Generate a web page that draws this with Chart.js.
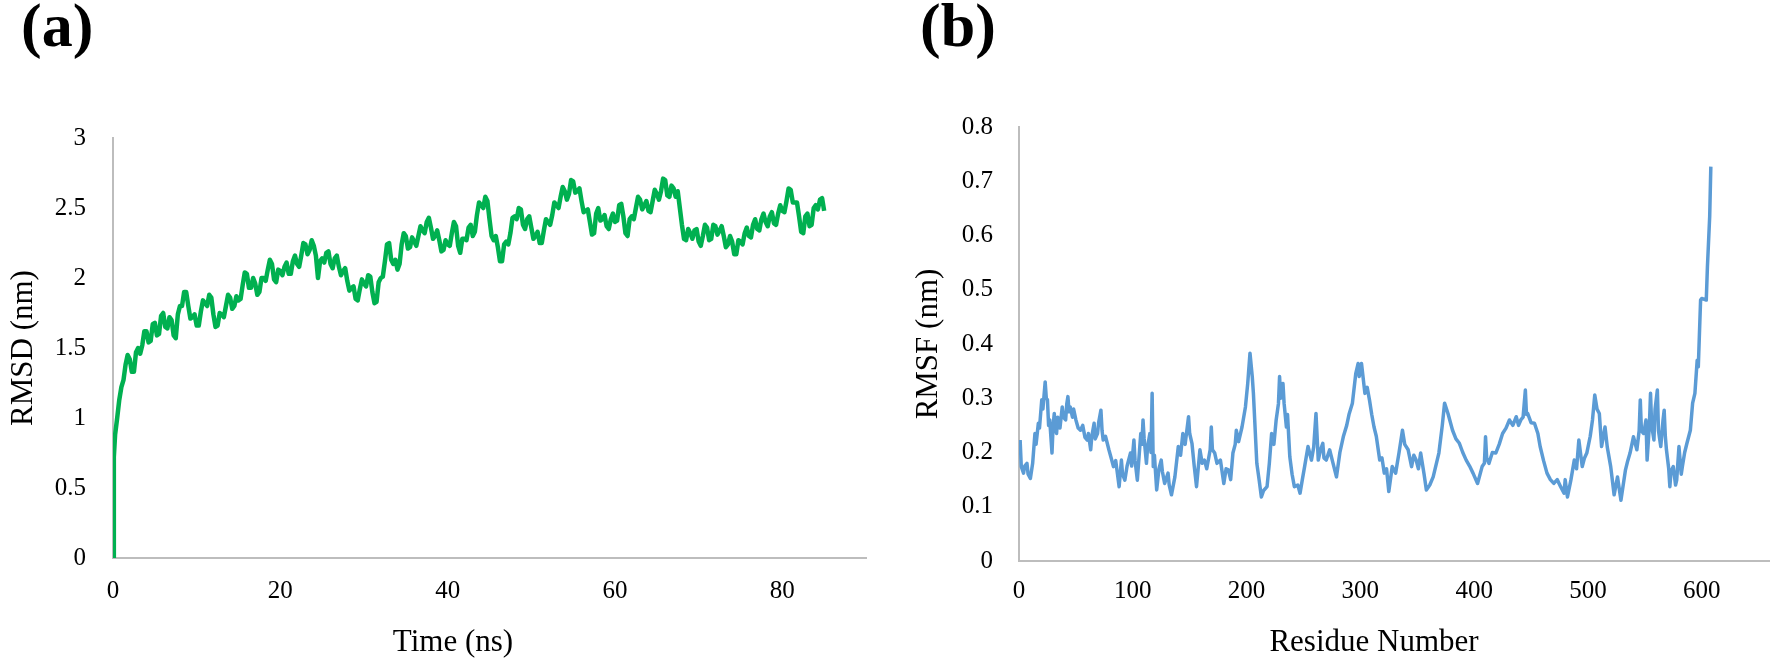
<!DOCTYPE html>
<html>
<head>
<meta charset="utf-8">
<script src="https://cdn.jsdelivr.net/npm/chart.js@4"></script>
<style>
  body { margin: 0; background: #fff; }
  #wrap { position: relative; width: 1770px; height: 660px; overflow: hidden; background: #fff;
          font-family: "Liberation Serif", "Times New Roman", serif; color: #000; }
  .panel { position: absolute; top: 0; height: 660px; }
  .panel canvas { display: block; }
  .letter { position: absolute; top: -6px; font-size: 62px; font-weight: bold; line-height: 62px; }
  .xtitle { position: absolute; top: 623px; width: 400px; text-align: center; font-size: 31px; line-height: 36px; }
</style>
</head>
<body>
<div id="wrap">
  <div class="panel" style="left:0;width:880px"><canvas id="rmsd" width="880" height="660"></canvas></div>
  <div class="panel" style="left:880px;width:890px"><canvas id="rmsf" width="890" height="660"></canvas></div>
  <div class="letter" style="left:21px">(a)</div>
  <div class="letter" style="left:920px">(b)</div>
  <div class="xtitle" style="left:253px">Time (ns)</div>
  <div class="xtitle" style="left:1174px">Residue Number</div>
</div>
<script>
// (a) backbone RMSD over the simulation
var timeNs = [
  0, 0.1, 0.25, 0.5, 0.75,
  1, 1.25, 1.5, 1.75, 2, 2.25, 2.5, 2.75, 3, 3.25, 3.5, 3.75, 4, 4.25, 4.5, 4.75, 5, 5.25, 5.5, 5.75,
  6, 6.25, 6.5, 6.75, 7, 7.25, 7.5, 7.75, 8, 8.25, 8.5, 8.75, 9, 9.25, 9.5, 9.75, 10, 10.25, 10.5, 10.75,
  11, 11.25, 11.5, 11.75, 12, 12.25, 12.5, 12.75, 13, 13.25, 13.5, 13.75, 14, 14.25, 14.5, 14.75, 15, 15.25, 15.5, 15.75,
  16, 16.25, 16.5, 16.75, 17, 17.25, 17.5, 17.75, 18, 18.25, 18.5, 18.75, 19, 19.25, 19.5, 19.75, 20, 20.25, 20.5, 20.75,
  21, 21.25, 21.5, 21.75, 22, 22.25, 22.5, 22.75, 23, 23.25, 23.5, 23.75, 24, 24.25, 24.5, 24.75, 25, 25.25, 25.5, 25.75,
  26, 26.25, 26.5, 26.75, 27, 27.25, 27.5, 27.75, 28, 28.25, 28.5, 28.75, 29, 29.25, 29.5, 29.75, 30, 30.25, 30.5, 30.75,
  31, 31.25, 31.5, 31.75, 32, 32.25, 32.5, 32.75, 33, 33.25, 33.5, 33.75, 34, 34.25, 34.5, 34.75, 35, 35.25, 35.5, 35.75,
  36, 36.25, 36.5, 36.75, 37, 37.25, 37.5, 37.75, 38, 38.25, 38.5, 38.75, 39, 39.25, 39.5, 39.75, 40, 40.25, 40.5, 40.75,
  41, 41.25, 41.5, 41.75, 42, 42.25, 42.5, 42.75, 43, 43.25, 43.5, 43.75, 44, 44.25, 44.5, 44.75, 45, 45.25, 45.5, 45.75,
  46, 46.25, 46.5, 46.75, 47, 47.25, 47.5, 47.75, 48, 48.25, 48.5, 48.75, 49, 49.25, 49.5, 49.75, 50, 50.25, 50.5, 50.75,
  51, 51.25, 51.5, 51.75, 52, 52.25, 52.5, 52.75, 53, 53.25, 53.5, 53.75, 54, 54.25, 54.5, 54.75, 55, 55.25, 55.5, 55.75,
  56, 56.25, 56.5, 56.75, 57, 57.25, 57.5, 57.75, 58, 58.25, 58.5, 58.75, 59, 59.25, 59.5, 59.75, 60, 60.25, 60.5, 60.75,
  61, 61.25, 61.5, 61.75, 62, 62.25, 62.5, 62.75, 63, 63.25, 63.5, 63.75, 64, 64.25, 64.5, 64.75, 65, 65.25, 65.5, 65.75,
  66, 66.25, 66.5, 66.75, 67, 67.25, 67.5, 67.75, 68, 68.25, 68.5, 68.75, 69, 69.25, 69.5, 69.75, 70, 70.25, 70.5, 70.75,
  71, 71.25, 71.5, 71.75, 72, 72.25, 72.5, 72.75, 73, 73.25, 73.5, 73.75, 74, 74.25, 74.5, 74.75, 75, 75.25, 75.5, 75.75,
  76, 76.25, 76.5, 76.75, 77, 77.25, 77.5, 77.75, 78, 78.25, 78.5, 78.75, 79, 79.25, 79.5, 79.75, 80, 80.25, 80.5, 80.75,
  81, 81.25, 81.5, 81.75, 82, 82.25, 82.5, 82.75, 83, 83.25, 83.5, 83.75, 84, 84.25, 84.5, 84.75, 85,
];
var rmsdNm = [
  0, 0.72, 0.88, 1.0, 1.13,
  1.22, 1.27, 1.38, 1.45, 1.42, 1.33, 1.33, 1.47, 1.5, 1.46, 1.52, 1.62, 1.62, 1.54, 1.55, 1.67, 1.68, 1.59, 1.6, 1.73,
  1.75, 1.65, 1.64, 1.72, 1.7, 1.59, 1.57, 1.74, 1.8, 1.8, 1.9, 1.9, 1.8, 1.71, 1.72, 1.74, 1.66, 1.66, 1.76, 1.84,
  1.82, 1.8, 1.88, 1.86, 1.74, 1.65, 1.66, 1.75, 1.74, 1.72, 1.8, 1.88, 1.86, 1.78, 1.8, 1.87, 1.84, 1.85, 1.95, 2.04,
  2.03, 1.93, 1.93, 2.0, 1.96, 1.88, 1.9, 2.0, 2.0, 1.98, 2.06, 2.13, 2.1, 1.99, 1.97, 2.06, 2.05, 2.02, 2.08, 2.11,
  2.03, 2.03, 2.12, 2.16, 2.1, 2.08, 2.16, 2.25, 2.24, 2.17, 2.2, 2.27, 2.23, 2.16, 2.0, 2.12, 2.14, 2.11, 2.18, 2.19,
  2.1, 2.07, 2.14, 2.16, 2.08, 2.02, 2.05, 2.07, 1.98, 1.91, 1.93, 1.94, 1.85, 1.84, 1.92, 1.99, 1.96, 1.94, 2.02, 2.01,
  1.9, 1.82, 1.83, 1.97, 2.0, 2.01, 2.12, 2.24, 2.25, 2.13, 2.1, 2.13, 2.06, 2.1, 2.24, 2.32, 2.3, 2.21, 2.22, 2.29,
  2.26, 2.23, 2.3, 2.37, 2.34, 2.32, 2.4, 2.43, 2.36, 2.28, 2.3, 2.34, 2.27, 2.19, 2.2, 2.27, 2.24, 2.23, 2.32, 2.4,
  2.37, 2.23, 2.18, 2.28, 2.28, 2.27, 2.36, 2.38, 2.3, 2.33, 2.45, 2.54, 2.52, 2.5, 2.58, 2.55, 2.42, 2.3, 2.27, 2.3,
  2.22, 2.12, 2.12, 2.24, 2.26, 2.24, 2.32, 2.43, 2.44, 2.42, 2.5, 2.49, 2.38, 2.35, 2.42, 2.44, 2.36, 2.28, 2.3, 2.33,
  2.25, 2.25, 2.34, 2.42, 2.4, 2.38, 2.45, 2.54, 2.52, 2.5, 2.58, 2.65, 2.62, 2.56, 2.6, 2.7, 2.69, 2.61, 2.62, 2.64,
  2.55, 2.47, 2.48, 2.49, 2.4, 2.31, 2.32, 2.46, 2.5, 2.41, 2.42, 2.45, 2.37, 2.35, 2.42, 2.46, 2.4, 2.41, 2.52, 2.53,
  2.44, 2.32, 2.3, 2.42, 2.44, 2.42, 2.5, 2.58, 2.56, 2.49, 2.52, 2.55, 2.48, 2.47, 2.55, 2.63, 2.6, 2.56, 2.62, 2.71,
  2.7, 2.59, 2.58, 2.66, 2.64, 2.58, 2.62, 2.5, 2.38, 2.28, 2.27, 2.35, 2.32, 2.28, 2.34, 2.35, 2.26, 2.23, 2.3, 2.38,
  2.36, 2.27, 2.28, 2.38, 2.37, 2.31, 2.34, 2.37, 2.3, 2.22, 2.24, 2.3, 2.26, 2.17, 2.17, 2.27, 2.26, 2.24, 2.32, 2.36,
  2.3, 2.29, 2.38, 2.42, 2.35, 2.34, 2.42, 2.46, 2.4, 2.37, 2.44, 2.47, 2.39, 2.38, 2.46, 2.52, 2.48, 2.47, 2.55, 2.64,
  2.63, 2.54, 2.54, 2.54, 2.44, 2.33, 2.32, 2.44, 2.46, 2.37, 2.38, 2.5, 2.52, 2.49, 2.56, 2.57, 2.48,
];

// (b) per-residue RMSF
var residues = [
  1, 2, 4, 5, 7, 8, 10, 12, 14, 15, 17, 18, 20, 21, 23, 24, 25, 26, 27, 29,
  30, 31, 32, 33, 34, 35, 36, 38, 39, 41, 42, 43, 44, 45, 47, 48, 50, 52, 54, 56,
  58, 60, 61, 63, 64, 66, 67, 69, 70, 72, 73, 74, 76, 79, 81, 83, 85, 88, 90, 91,
  93, 95, 98, 99, 101, 102, 104, 107, 108, 109, 110, 112, 113, 115, 116, 117, 118, 119, 121, 123,
  125, 126, 128, 131, 132, 134, 137, 140, 142, 144, 146, 149, 150, 152, 154, 156, 159, 161, 163, 165,
  168, 169, 170, 172, 174, 177, 180, 182, 184, 186, 188, 190, 191, 193, 196, 199, 201, 203, 205, 206,
  209, 211, 213, 215, 218, 220, 222, 224, 226, 228, 229, 230, 232, 233, 235, 236, 238, 240, 242, 245,
  247, 249, 251, 254, 257, 259, 261, 263, 265, 267, 268, 270, 273, 276, 279, 282, 285, 288, 290, 293,
  296, 298, 299, 301, 304, 306, 308, 310, 312, 314, 317, 319, 321, 323, 325, 328, 331, 334, 337, 339,
  342, 345, 347, 349, 351, 353, 356, 358, 361, 364, 369, 372, 374, 377, 381, 384, 387, 390, 393, 396,
  399, 403, 407, 409, 410, 411, 413, 416, 419, 422, 425, 428, 431, 434, 437, 439, 441, 443, 445, 446,
  447, 450, 453, 456, 458, 461, 464, 467, 470, 473, 476, 479, 480, 482, 485, 488, 490, 492, 495, 497,
  499, 502, 504, 506, 508, 510, 512, 515, 517, 520, 523, 526, 529, 531, 533, 535, 537, 540, 543, 545,
  546, 547, 549, 551, 552, 554, 555, 556, 558, 559, 561, 562, 564, 566, 567, 568, 569, 571, 572, 573,
  575, 577, 578, 580, 582, 583, 585, 587, 590, 592, 594, 596, 597, 599, 600, 604, 605, 607, 608,
];
var rmsfNm = [
  0.223, 0.174, 0.162, 0.175, 0.18, 0.16, 0.152, 0.18, 0.235, 0.215, 0.254, 0.245, 0.297, 0.28, 0.33, 0.3, 0.297, 0.25, 0.26, 0.199,
  0.25, 0.272, 0.245, 0.235, 0.265, 0.26, 0.245, 0.284, 0.265, 0.26, 0.29, 0.303, 0.275, 0.284, 0.265, 0.28, 0.26, 0.245, 0.241, 0.25,
  0.228, 0.223, 0.235, 0.205, 0.23, 0.254, 0.225, 0.235, 0.255, 0.278, 0.24, 0.223, 0.23, 0.205, 0.19, 0.174, 0.185, 0.137, 0.186, 0.16,
  0.149, 0.175, 0.199, 0.175, 0.223, 0.185, 0.149, 0.235, 0.215, 0.26, 0.225, 0.18, 0.21, 0.235, 0.2, 0.309, 0.174, 0.195, 0.131, 0.17,
  0.186, 0.165, 0.143, 0.162, 0.14, 0.122, 0.155, 0.211, 0.195, 0.235, 0.215, 0.266, 0.235, 0.217, 0.175, 0.137, 0.205, 0.18, 0.186, 0.17,
  0.205, 0.247, 0.205, 0.199, 0.18, 0.186, 0.143, 0.17, 0.168, 0.15, 0.199, 0.215, 0.241, 0.22, 0.247, 0.284, 0.327, 0.383, 0.34, 0.309,
  0.18, 0.15, 0.118, 0.13, 0.137, 0.18, 0.235, 0.215, 0.26, 0.29, 0.34, 0.3, 0.327, 0.29, 0.247, 0.27, 0.192, 0.16, 0.137, 0.14,
  0.125, 0.15, 0.174, 0.211, 0.186, 0.21, 0.272, 0.186, 0.205, 0.217, 0.19, 0.186, 0.205, 0.18, 0.155, 0.2, 0.229, 0.25, 0.27, 0.291,
  0.346, 0.364, 0.34, 0.364, 0.309, 0.32, 0.297, 0.27, 0.247, 0.23, 0.186, 0.19, 0.162, 0.17, 0.128, 0.174, 0.162, 0.2, 0.241, 0.215,
  0.205, 0.174, 0.195, 0.186, 0.17, 0.199, 0.16, 0.131, 0.14, 0.155, 0.199, 0.25, 0.291, 0.272, 0.241, 0.225, 0.217, 0.2, 0.186, 0.175,
  0.162, 0.143, 0.174, 0.18, 0.229, 0.19, 0.18, 0.2, 0.199, 0.215, 0.235, 0.245, 0.26, 0.25, 0.266, 0.25, 0.26, 0.265, 0.315, 0.27,
  0.272, 0.255, 0.254, 0.235, 0.211, 0.185, 0.162, 0.15, 0.143, 0.15, 0.137, 0.125, 0.15, 0.118, 0.149, 0.186, 0.17, 0.223, 0.174, 0.19,
  0.199, 0.23, 0.26, 0.306, 0.28, 0.272, 0.211, 0.247, 0.21, 0.174, 0.122, 0.155, 0.112, 0.14, 0.168, 0.185, 0.199, 0.229, 0.205, 0.24,
  0.297, 0.24, 0.235, 0.26, 0.186, 0.25, 0.309, 0.25, 0.223, 0.28, 0.315, 0.24, 0.211, 0.26, 0.278, 0.23, 0.205, 0.17, 0.137, 0.165,
  0.174, 0.14, 0.149, 0.211, 0.16, 0.174, 0.2, 0.217, 0.241, 0.291, 0.309, 0.37, 0.358, 0.481, 0.484, 0.481, 0.542, 0.635, 0.727,
];

var serif = "'Liberation Serif', 'Times New Roman', serif";
var axisGray = "#bdbdbd";

function makeChart(canvasId, xs, ys, cfg) {
  return new Chart(document.getElementById(canvasId), {
    type: "line",
    data: {
      datasets: [
        {
          data: xs.map((x, i) => ({ x: x, y: ys[i] })),
          borderColor: cfg.color,
          borderWidth: cfg.lineWidth,
          borderJoinStyle: "round",
          pointRadius: 0,
          tension: 0,
          fill: false,
        },
      ],
    },
    options: {
      responsive: false,
      animation: false,
      layout: {
        autoPadding: false,
        padding: { top: cfg.top, right: cfg.right, left: 0, bottom: 0 },
      },
      plugins: {
        legend: { display: false },
        tooltip: { enabled: false },
      },
      scales: {
        x: {
          type: "linear",
          min: 0,
          max: cfg.xMax,
          grid: { display: false, drawTicks: false },
          border: { display: true, color: axisGray, width: 2 },
          ticks: {
            stepSize: cfg.xStep,
            padding: cfg.xPad,
            maxRotation: 0,
            autoSkip: false,
            color: "#000",
            font: { family: serif, size: 25 },
          },
          afterBuildTicks: function (scale) {
            scale.ticks = scale.ticks.filter((t) => t.value % cfg.xStep === 0);
          },
          afterFit: function (scale) {
            scale.height = cfg.xHeight;
          },
        },
        y: {
          min: 0,
          max: cfg.yMax,
          grid: { display: false, drawTicks: false },
          border: { display: true, color: axisGray, width: 2 },
          ticks: {
            stepSize: cfg.yStep,
            padding: cfg.yPad,
            color: "#000",
            font: { family: serif, size: 25 },
            callback: function (value) {
              return String(+value.toFixed(2));
            },
          },
          title: {
            display: true,
            text: cfg.yTitle,
            color: "#000",
            font: { family: serif, size: 31 },
            padding: { top: cfg.titlePad, bottom: 0 },
          },
          afterFit: function (scale) {
            scale.width = cfg.yWidth;
          },
        },
      },
    },
  });
}

var rmsdChart = makeChart("rmsd", timeNs, rmsdNm, {
  color: "#00b050",
  lineWidth: 4.5,
  top: 138,
  right: 14,
  xMax: 90,
  xStep: 20,
  xPad: 18,
  xHeight: 102,
  yMax: 3,
  yStep: 0.5,
  yPad: 27,
  yWidth: 113,
  yTitle: "RMSD (nm)",
  titlePad: 5,
});

var rmsfChart = makeChart("rmsf", residues, rmsfNm, {
  color: "#5b9bd5",
  lineWidth: 3.5,
  top: 127,
  right: 0,
  xMax: 660,
  xStep: 100,
  xPad: 15,
  xHeight: 99,
  yMax: 0.8,
  yStep: 0.1,
  yPad: 26,
  yWidth: 139,
  yTitle: "RMSF (nm)",
  titlePad: 30,
});
</script>
</body>
</html>
